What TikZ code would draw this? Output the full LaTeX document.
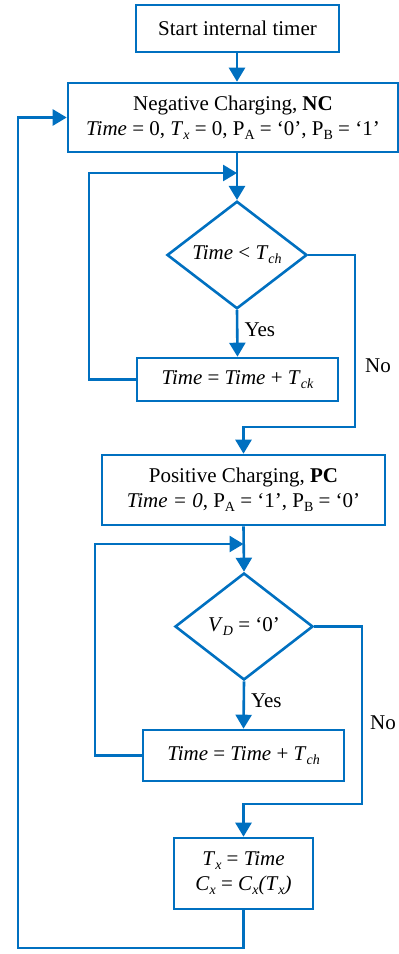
\documentclass[tikz,border=0pt]{standalone}
\usepackage{fontspec}
\setmainfont{Liberation Serif}
\usetikzlibrary{arrows.meta,shapes.geometric}
\definecolor{flowblue}{RGB}{0,112,192}
% small lowered index, e.g. the A in P_A
\newcommand{\lowidx}[1]{\raisebox{-0.2em}{\fontsize{14}{14}\selectfont #1}}
\begin{document}
\begin{tikzpicture}[x=1pt,y=-1pt,
  font=\fontsize{21}{25}\selectfont,
  flowbox/.style={draw=flowblue, line width=2.6pt, inner sep=0pt, align=center, text=black},
  decision/.style={diamond, draw=flowblue, line width=2.6pt, inner sep=0pt, align=center, text=black},
  link/.style={draw=flowblue, line width=2.6pt, -{Triangle[length=14pt,width=16pt]}},
  tag/.style={inner sep=0pt, font=\fontsize{21}{25}\selectfont}]
\useasboundingbox (0,0) rectangle (399,954);

% process blocks
\node[flowbox, minimum width=203pt, minimum height=47pt] (start) at (237.5,28.5) {Start internal timer};
\node[flowbox, minimum width=330pt, minimum height=69pt] (nc) at (233,117.5)
  {Negative Charging, \textbf{NC}\\
   \textit{Time} = 0, \textit{T}\lowidx{\textit{x}} = 0, P\lowidx{A} = ‘0’, P\lowidx{B} = ‘1’};
\node[decision, minimum width=140pt, minimum height=106pt] (d1) at (237,255)
  {\textit{Time} < \textit{T}\lowidx{\textit{ch}}};
\node[flowbox, minimum width=201pt, minimum height=43pt] (b1) at (237.5,379.5)
  {\textit{Time} = \textit{Time} + \textit{T}\lowidx{\textit{ck}}};
\node[flowbox, minimum width=283pt, minimum height=70pt] (pc) at (243.5,490)
  {Positive Charging, \textbf{PC}\\
   \textit{Time = 0}, P\lowidx{A} = ‘1’, P\lowidx{B} = ‘0’};
\node[decision, minimum width=138pt, minimum height=107pt] (d2) at (244,626.5)
  {\textit{V}\lowidx{\textit{D}} = ‘0’};
\node[flowbox, minimum width=201pt, minimum height=51pt] (b2) at (243.5,755.5)
  {\textit{Time} = \textit{Time} + \textit{T}\lowidx{\textit{ch}}};
\node[flowbox, minimum width=139pt, minimum height=71pt] (b3) at (243.5,873.5)
  {\textit{T}\lowidx{\textit{x}} = \textit{Time}\\
   \textit{C}\lowidx{\textit{x}} = \textit{C}\lowidx{\textit{x}}\textit{(T}\lowidx{\textit{x}}\textit{)}};

% junction and corner points
\coordinate (j1) at (237,173);
\coordinate (l1) at (89,173);
\coordinate (r1) at (355,427);
\coordinate (j2) at (243.5,544);
\coordinate (l2) at (95,544);
\coordinate (r2) at (362,804);
\coordinate (back) at (18,948);

% connectors
\draw[link] (d1.north |- start.south) -- (d1.north |- nc.north);
\draw[link] (d1.north |- nc.south) -- (d1.north);
\draw[link] (d1.south) -- node[tag, right=6pt, pos=0.42] {Yes} (b1.north);
\draw[link] (b1.west) -| (l1) -- (j1);
\draw[link] (d1.east) -| (r1) -- (pc.north |- r1) -- (pc.north);
\node[tag] (no1) at (378,366) {No};

\draw[link] (pc.south) -- (d2.north);
\draw[link] (d2.south) -- node[tag, right=6pt, pos=0.42] {Yes} (b2.north);
\draw[link] (b2.west) -| (l2) -- (j2);
\draw[link] (d2.east) -| (r2) -- (b3.north |- r2) -- (b3.north);
\node[tag] (no2) at (383,723) {No};

\draw[link] (b3.south) |- (back) |- (nc.west);
\end{tikzpicture}
\end{document}
